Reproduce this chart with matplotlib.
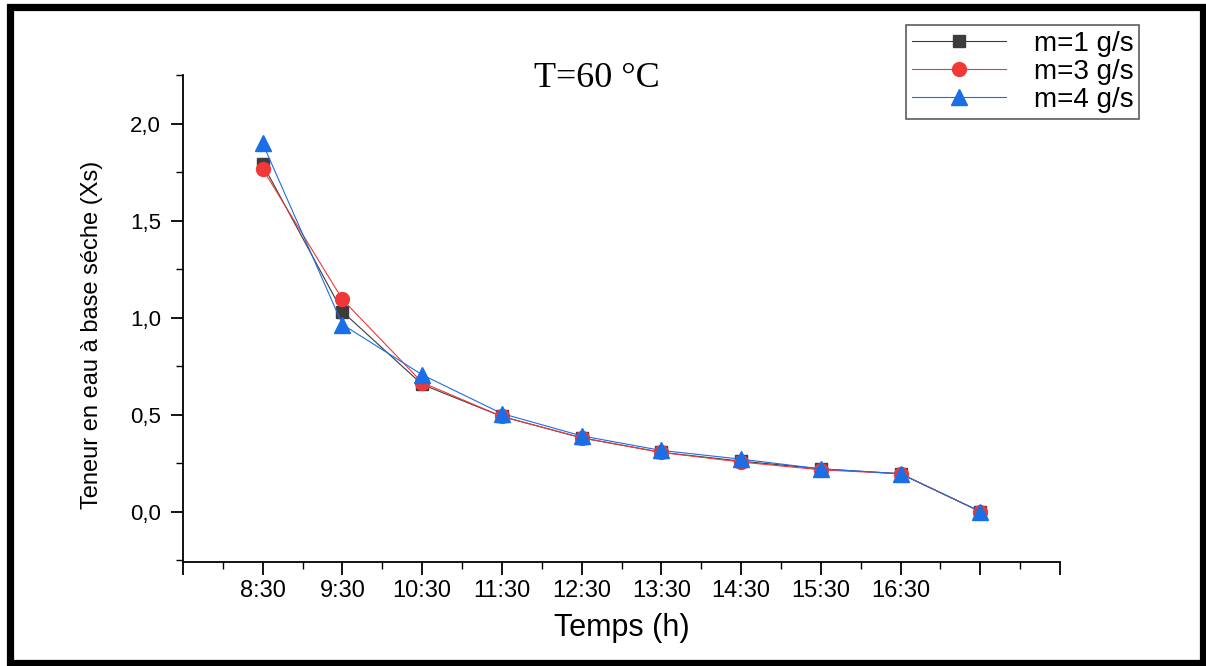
import matplotlib
matplotlib.use("Agg")
import matplotlib.pyplot as plt
from matplotlib.patches import Rectangle
from matplotlib.ticker import FixedLocator, MultipleLocator, FuncFormatter

# drying time points (hourly readings, last one unlabeled)
times = ["8:30", "9:30", "10:30", "11:30", "12:30", "13:30", "14:30", "15:30", "16:30", ""]
xs_m1 = [1.79, 1.03, 0.655, 0.49, 0.38, 0.305, 0.26, 0.22, 0.195, 0.0]
xs_m3 = [1.765, 1.093, 0.665, 0.49, 0.38, 0.305, 0.255, 0.215, 0.195, 0.0]
xs_m4 = [1.897, 0.964, 0.705, 0.505, 0.39, 0.315, 0.27, 0.22, 0.195, 0.0]

plt.rcParams["font.family"] = ["Liberation Sans", "DejaVu Sans"]

fig = plt.figure(figsize=(12.06, 6.66), dpi=100)
ax = fig.add_axes([183 / 1206, 1 - 562 / 666, (1060 - 183) / 1206, (562 - 75) / 666])

pos = list(range(1, len(times) + 1))
ax.plot(pos, xs_m1, "-s", color="#3c3c3c", lw=0.8, ms=9, label="m=1 g/s")
ax.plot(pos, xs_m3, "-o", color="#f03838", lw=0.8, ms=10, label="m=3 g/s")
ax.plot(pos, xs_m4, "-^", color="#1a6ee6", lw=0.8, ms=11, label="m=4 g/s")

ax.set_xlim(0, 11)
ax.set_ylim(-0.26, 2.25)
ax.xaxis.set_major_locator(FixedLocator(range(0, 12)))
ax.xaxis.set_minor_locator(MultipleLocator(0.5))
ax.set_xticklabels([""] + times + [""])
ax.yaxis.set_major_locator(MultipleLocator(0.5))
ax.yaxis.set_minor_locator(MultipleLocator(0.25))
ax.yaxis.set_major_formatter(FuncFormatter(lambda v, p: f"{v:.1f}".replace(".", ",")))

for s in ("top", "right"):
    ax.spines[s].set_visible(False)
for s in ("left", "bottom"):
    ax.spines[s].set_linewidth(1.3)
ax.tick_params(which="major", length=9, width=1.3)
ax.tick_params(which="minor", length=5, width=1.0)
ax.tick_params(axis="x", labelsize=17, pad=4)
ax.tick_params(axis="y", labelsize=16, pad=7)

ax.set_xlabel("Temps (h)", fontsize=22, labelpad=8)
ax.set_ylabel("Teneur en eau à base séche (Xs)", fontsize=17)
ax.yaxis.set_label_coords(-0.091, 0.466)

fig.text(597 / 1206, 1 - 87 / 666, "T=60 °C", family="Liberation Serif",
         fontsize=26, ha="center", va="baseline")

leg = fig.legend(loc="upper left", bbox_to_anchor=(906 / 1206, 1 - 25 / 666),
                 fontsize=20, frameon=True, fancybox=False, handlelength=3.4,
                 borderpad=0.2, labelspacing=0.08, handletextpad=1.0,
                 borderaxespad=0)
leg.get_frame().set_edgecolor("#333333")
leg.get_frame().set_linewidth(1.2)

# heavy frame around the whole figure
fig.patches.append(Rectangle((9.5 / 1206, 3 / 666), (1202.5 - 9.5) / 1206, (659.5 - 3) / 666,
                             transform=fig.transFigure, fill=False, lw=5.2,
                             edgecolor="black"))

fig.savefig("out.png", dpi=100)
